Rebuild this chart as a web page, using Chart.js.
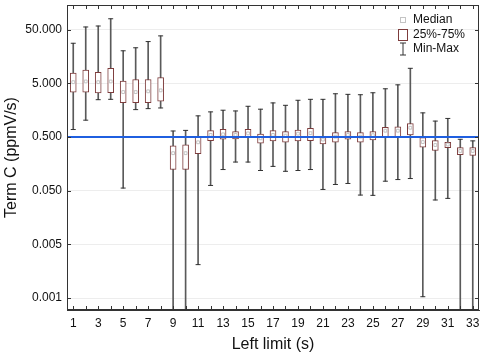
<!DOCTYPE html>
<html>
<head>
<meta charset="utf-8">
<script src="https://cdn.jsdelivr.net/npm/chart.js@4.4.1/dist/chart.umd.min.js"></script>
<style>
html,body{margin:0;padding:0;background:#fff;}
#wrap{width:484px;height:356px;}
</style>
</head>
<body>
<div id="wrap"><canvas id="c" width="484" height="356"></canvas></div>
<script>
const categories = ['1','2','3','4','5','6','7','8','9','10','11','12','13','14','15','16','17','18','19','20','21','22','23','24','25','26','27','28','29','30','31','32','33'];
const minVals = [0.69,1.03,2.48,2.52,0.056,1.62,1.69,1.74,0.0001,0.0001,0.0021,0.0627,0.124,0.171,0.171,0.119,0.142,0.115,0.119,0.124,0.0528,0.0653,0.0682,0.0415,0.041,0.0752,0.0807,0.0843,0.00053,0.0336,0.036,0.0001,0.0001];
const q1Vals  = [3.44,3.44,3.30,3.34,2.18,2.18,2.18,2.32,0.124,0.124,0.244,0.430,0.454,0.461,0.494,0.383,0.424,0.399,0.424,0.430,0.373,0.399,0.454,0.399,0.442,0.508,0.508,0.547,0.323,0.281,0.318,0.234,0.227];
const medVals = [5.26,5.42,5.26,5.42,3.44,3.44,3.55,3.70,0.250,0.250,0.399,0.547,0.561,0.547,0.585,0.473,0.547,0.531,0.578,0.590,0.448,0.508,0.547,0.508,0.542,0.656,0.656,0.745,0.403,0.355,0.362,0.275,0.275];
const q3Vals  = [7.8,8.87,8.05,9.53,5.49,5.90,5.90,6.43,0.343,0.357,0.494,0.656,0.693,0.629,0.693,0.570,0.656,0.629,0.676,0.724,0.508,0.603,0.629,0.603,0.629,0.755,0.778,0.895,0.488,0.430,0.399,0.318,0.318];
const maxVals = [27.9,56.1,58.5,79.8,20.2,23.0,30.0,38.3,0.648,0.665,1.24,1.47,1.58,1.53,1.87,1.65,2.16,1.95,2.42,2.52,2.52,3.20,3.12,3.07,3.34,3.96,4.69,9.53,1.41,0.991,1.11,0.454,0.424];
const refValue = 0.5;
const yTickValues = [0.0005,0.005,0.05,0.5,5,50];
const yTickLabels = ['0.001','0.005','0.050','0.500','5.000','50.000'];
const yMin = 0.0003, yMax = 144;
const legendLabels = ['Median','25%-75%','Min-Max'];
const xTitle = 'Left limit (s)';
const yTitle = 'Term C (ppmV/s)';

const FONT = "'Liberation Sans', Arial, sans-serif";
const boxColor = '#7d3c3c';
const whiskColor = '#5a5a5a';
const medColor = '#c4c4c4';
const refColor = '#1f5fe0';

const decor = {
  id: 'decor',
  afterDatasetsDraw(chart) {
    const {ctx, chartArea: a, scales: {y}} = chart;
    ctx.save();
    const yr = y.getPixelForValue(refValue);
    ctx.strokeStyle = refColor; ctx.lineWidth = 2;
    ctx.beginPath(); ctx.moveTo(a.left, yr); ctx.lineTo(a.right, yr); ctx.stroke();
    ctx.restore();
  },
  afterDraw(chart) {
    const {ctx, chartArea: a, scales: {x, y}} = chart;
    ctx.save();
    ctx.strokeStyle = '#333'; ctx.lineWidth = 1;
    ctx.strokeRect(Math.round(a.left) + 0.5, Math.round(a.top) + 0.5, Math.round(a.right - a.left) - 1, Math.round(a.bottom - a.top) - 1);
    ctx.beginPath();
    categories.forEach((c, i) => {
      const px = Math.round(x.getPixelForValue(i)) + 0.5;
      ctx.moveTo(px, a.bottom); ctx.lineTo(px, a.bottom - 4);
      ctx.moveTo(px, a.top); ctx.lineTo(px, a.top + 4);
    });
    yTickValues.forEach(v => {
      const py = Math.round(y.getPixelForValue(v)) + 0.5;
      ctx.moveTo(a.left, py); ctx.lineTo(a.left + 4, py);
      ctx.moveTo(a.right, py); ctx.lineTo(a.right - 4, py);
    });
    ctx.stroke();
    // legend
    const lx = a.right - 76, tx = a.right - 66;
    const rows = [a.top + 15, a.top + 30, a.top + 44];
    ctx.font = '12px ' + FONT; ctx.fillStyle = '#111'; ctx.textBaseline = 'middle'; ctx.textAlign = 'left';
    legendLabels.forEach((t, i) => ctx.fillText(t, tx, rows[i]));
    ctx.strokeStyle = medColor; ctx.lineWidth = 1;
    ctx.strokeRect(lx - 2.5, rows[0] - 2.5, 5, 5);
    ctx.strokeStyle = boxColor;
    ctx.strokeRect(lx - 4.5, rows[1] - 5.5, 9, 11);
    ctx.strokeStyle = '#333';
    ctx.beginPath();
    ctx.moveTo(lx, rows[2] - 6); ctx.lineTo(lx, rows[2] + 6);
    ctx.moveTo(lx - 3, rows[2] - 6); ctx.lineTo(lx + 3, rows[2] - 6);
    ctx.moveTo(lx - 3, rows[2] + 6); ctx.lineTo(lx + 3, rows[2] + 6);
    ctx.stroke();
    ctx.restore();
  }
};

new Chart(document.getElementById('c'), {
  type: 'bar',
  data: {
    labels: categories,
    datasets: [
      {
        type: 'bar', label: 'Min-Max', order: 5, grouped: false,
        data: minVals.map((v, i) => [v, maxVals[i]]),
        backgroundColor: whiskColor, borderWidth: 0, barThickness: 1
      },
      {
        type: 'bar', label: '25%-75%', order: 4, grouped: false,
        data: q1Vals.map((v, i) => [v, q3Vals[i]]),
        backgroundColor: '#ffffff', borderColor: boxColor, borderWidth: 1,
        borderSkipped: false, barThickness: 6
      },
      {
        type: 'line', label: 'max cap', order: 3, showLine: false,
        data: maxVals, pointStyle: 'line', pointRadius: 2.5, borderColor: '#333', borderWidth: 1
      },
      {
        type: 'line', label: 'min cap', order: 3, showLine: false,
        data: minVals, pointStyle: 'line', pointRadius: 2.5, borderColor: '#333', borderWidth: 1
      },
      {
        type: 'line', label: 'Median', order: 2, showLine: false,
        data: medVals, pointStyle: 'rect', pointRadius: 2, borderColor: medColor,
        backgroundColor: '#ffffff', borderWidth: 1, pointBorderColor: medColor, pointBackgroundColor: '#ffffff'
      }
    ]
  },
  options: {
    responsive: false, animation: false,
    layout: { padding: { left: 0, right: 2, top: 2, bottom: 0 } },
    plugins: { legend: { display: false }, tooltip: { enabled: false } },
    scales: {
      x: {
        type: 'category', offset: true,
        grid: { display: false, drawTicks: false },
        border: { color: '#333' },
        afterFit: s => { s.height = 46; s.paddingLeft = 0; s.paddingRight = 0; },
        ticks: {
          autoSkip: false, maxRotation: 0, padding: 6, color: '#111',
          font: { size: 12, family: FONT },
          callback: (v, i) => (i % 2 === 0 ? categories[i] : '')
        },
        title: { display: true, text: xTitle, color: '#111', font: { size: 16, family: FONT }, padding: { top: 0, bottom: 2 } }
      },
      y: {
        type: 'logarithmic', min: yMin, max: yMax,
        afterBuildTicks: s => { s.ticks = yTickValues.map(v => ({ value: v })); },
        afterFit: s => { s.width = 67; s.paddingTop = 0; s.paddingBottom = 0; },
        grid: { color: '#ededed', drawTicks: false },
        border: { color: '#333' },
        ticks: {
          autoSkip: false, padding: 5, color: '#111',
          font: { size: 12, family: FONT },
          callback: (v, i) => yTickLabels[i]
        },
        title: { display: true, text: yTitle, color: '#111', font: { size: 16, family: FONT }, padding: { top: 2, bottom: 0 } }
      }
    }
  },
  plugins: [decor]
});
</script>
</body>
</html>
